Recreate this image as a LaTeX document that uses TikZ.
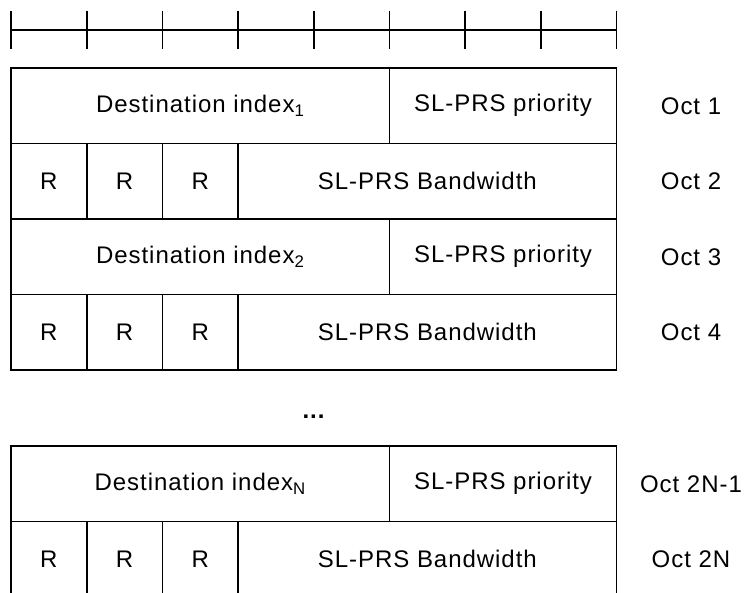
\documentclass[tikz,border=0pt]{standalone}
\usepackage{fontspec}
\setmainfont{Liberation Sans}[LetterSpace=4]
\begin{document}
\begin{tikzpicture}[x=1pt,y=-1pt,
  line width=1.6pt,
  every node/.style={font=\fontsize{24}{28}\selectfont},
  cell/.style={draw,rectangle,inner sep=0pt,outer sep=0pt,minimum height=75.5pt},
  one/.style={cell,minimum width=75.7pt},
  three/.style={cell,minimum width=227.1pt},
  five/.style={cell,minimum width=378.5pt},
  oct/.style={inner sep=0pt}]
\clip (0,0) rectangle (744,592);
\useasboundingbox (0,0) rectangle (744,592);
% ruler
\draw (11,30) -- (616.6,30);
\foreach \k in {0,...,8} \draw (11+75.7*\k,10.7) -- (11+75.7*\k,49.3);
% row 1
\node[five]  (d1) at (200.25,105.75) {Destination index\textsubscript{1}};
\node[three] (p1) at (503.05,105.75) {SL-PRS priority};
\node[oct]   (o1) at (691,105.75) {Oct 1};
% row 2
\node[one]  (r2a) at (48.85,181.25) {R};
\node[one]  (r2b) at (124.55,181.25) {R};
\node[one]  (r2c) at (200.25,181.25) {R};
\node[five] (b2)  at (427.35,181.25) {SL-PRS Bandwidth};
\node[oct]  (o2)  at (691,181.25) {Oct 2};
% row 3
\node[five]  (d3) at (200.25,256.75) {Destination index\textsubscript{2}};
\node[three] (p3) at (503.05,256.75) {SL-PRS priority};
\node[oct]   (o3) at (691,256.75) {Oct 3};
% row 4
\node[one]  (r4a) at (48.85,332.25) {R};
\node[one]  (r4b) at (124.55,332.25) {R};
\node[one]  (r4c) at (200.25,332.25) {R};
\node[five] (b4)  at (427.35,332.25) {SL-PRS Bandwidth};
\node[oct]  (o4)  at (691,332.25) {Oct 4};
% dots
\node (dots) at (314,417) {\textbf{...}};
% row 2N-1
\node[five]  (dN) at (200.25,483.75) {Destination index\textsubscript{N}};
\node[three] (pN) at (503.05,483.75) {SL-PRS priority};
\node[oct]   (oN1) at (691,483.75) {Oct 2N-1};
% row 2N
\node[one]  (rNa) at (48.85,559.25) {R};
\node[one]  (rNb) at (124.55,559.25) {R};
\node[one]  (rNc) at (200.25,559.25) {R};
\node[five] (bN)  at (427.35,559.25) {SL-PRS Bandwidth};
\node[oct]  (oN)  at (691,559.25) {Oct 2N};
\end{tikzpicture}
\end{document}
